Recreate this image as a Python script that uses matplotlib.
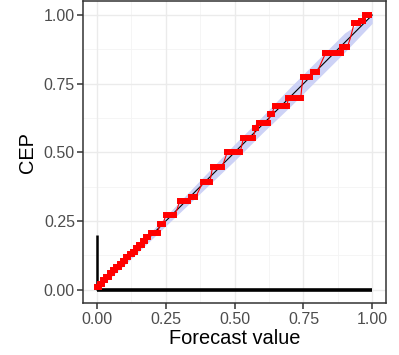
import matplotlib
matplotlib.use("Agg")
import matplotlib.pyplot as plt

# CEP step blocks: start, end, CEP value
block_start = [0.000, 0.010, 0.022, 0.034, 0.046, 0.058, 0.070, 0.082, 0.094, 0.106,
               0.118, 0.130, 0.142, 0.154, 0.166, 0.178, 0.195, 0.230,
               0.250, 0.290, 0.300, 0.340, 0.368, 0.385, 0.420, 0.473, 0.532, 0.575,
               0.590, 0.630, 0.645, 0.695, 0.748, 0.785, 0.820, 0.830, 0.890, 0.920,
               0.935, 0.960, 0.975]
block_end = [0.006, 0.018, 0.030, 0.042, 0.054, 0.066, 0.078, 0.090, 0.102, 0.114,
             0.126, 0.138, 0.150, 0.162, 0.174, 0.186, 0.220, 0.240,
             0.280, 0.290, 0.330, 0.357, 0.368, 0.410, 0.455, 0.520, 0.568, 0.578,
             0.620, 0.635, 0.690, 0.740, 0.775, 0.800, 0.820, 0.885, 0.910, 0.920,
             0.950, 0.965, 0.990]
block_cep = [0.008, 0.022, 0.034, 0.047, 0.060, 0.072, 0.083, 0.094, 0.104, 0.117,
             0.128, 0.138, 0.150, 0.163, 0.176, 0.190, 0.207, 0.240,
             0.272, 0.290, 0.321, 0.336, 0.357, 0.392, 0.448, 0.500, 0.552, 0.588,
             0.605, 0.640, 0.667, 0.698, 0.774, 0.793, 0.838, 0.860, 0.884, 0.915,
             0.972, 0.980, 1.000]

# consistency band around the diagonal
band_x = [0.0, 0.1, 0.2, 0.3, 0.4, 0.5, 0.6, 0.7, 0.8, 0.9, 1.0]
band_lo = [0.0, 0.09, 0.185, 0.28, 0.375, 0.47, 0.57, 0.665, 0.765, 0.865, 0.97]
band_hi = [0.0, 0.11, 0.215, 0.32, 0.425, 0.53, 0.63, 0.735, 0.835, 0.935, 1.0]

# histogram of forecast values (bars at the bottom)
hist_x = [0.0]
hist_h = [0.2]

ticks = [0.0, 0.25, 0.5, 0.75, 1.0]
tick_labels = ["0.00", "0.25", "0.50", "0.75", "1.00"]

plt.rcParams['font.family'] = ['Liberation Sans', 'DejaVu Sans']

fig = plt.figure(figsize=(3.99, 3.55), dpi=100)
ax = fig.add_axes([0.2088, 0.1456, 0.7586, 0.8507])

# grid like theme_bw
for v in [0.125, 0.375, 0.625, 0.875]:
    ax.axvline(v, color="#F4F4F4", lw=0.6, zorder=0)
    ax.axhline(v, color="#F4F4F4", lw=0.6, zorder=0)
for v in ticks:
    ax.axvline(v, color="#EBEBEB", lw=1.0, zorder=0)
    ax.axhline(v, color="#EBEBEB", lw=1.0, zorder=0)

ax.fill_between(band_x, band_lo, band_hi, color="#CDD2F6", lw=0, zorder=1)
ax.plot([0, 1], [0, 1], color="black", lw=0.8, zorder=2)

# histogram
ax.plot([0, 1], [0, 0], color="black", lw=2.6, solid_capstyle="butt", zorder=3)
for x, h in zip(hist_x, hist_h):
    ax.plot([x, x], [0, h], color="black", lw=1.8, solid_capstyle="butt", zorder=3)

# CEP line: thin connecting line plus thick blocks of points
line_x = []
line_y = []
for s, e, c in zip(block_start, block_end, block_cep):
    line_x += [s, e]
    line_y += [c, c]
ax.plot(line_x, line_y, color="red", lw=0.8, zorder=4)
for s, e, c in zip(block_start, block_end, block_cep):
    ax.plot([s, e], [c, c], color="red", lw=4.3, solid_capstyle="projecting", zorder=5)

ax.set_xlim(-0.05, 1.05)
ax.set_ylim(-0.05, 1.05)
ax.set_xticks(ticks)
ax.set_xticklabels(tick_labels)
ax.set_yticks(ticks)
ax.set_yticklabels(tick_labels)
ax.tick_params(colors="#333333", labelcolor="#4D4D4D", labelsize=11.5, length=4, width=1.1, pad=2)
for sp in ax.spines.values():
    sp.set_color("#333333")
    sp.set_linewidth(1.1)

ax.set_xlabel("Forecast value", fontsize=14.4, labelpad=2)
ax.set_ylabel("CEP", fontsize=14.4, labelpad=5)

fig.savefig("out.png", dpi=100)
